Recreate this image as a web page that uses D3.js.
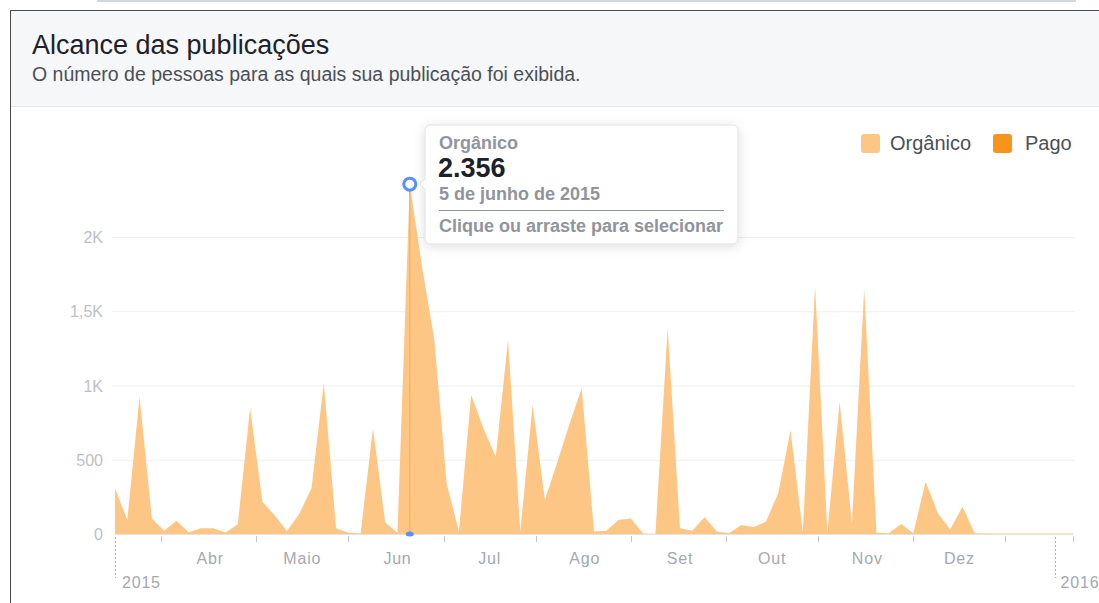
<!DOCTYPE html>
<html>
<head>
<meta charset="utf-8">
<script src="https://cdn.jsdelivr.net/npm/d3@7"></script>
<style>
  body { margin: 0; background: #fff; font-family: "Liberation Sans", Arial, Helvetica, sans-serif; }
  svg { display: block; }
  .grid { stroke: #eceef1; stroke-width: 1; }
  .ylab { fill: #bcc0c6; font-size: 16px; text-anchor: end; }
  .xlab { fill: #a4a8b0; font-size: 16px; text-anchor: middle; letter-spacing: 0.8px; }
  .xtick { stroke: #c4c8ce; stroke-width: 1; }
  .year { fill: #a4a8b0; font-size: 16px; letter-spacing: 0.8px; }
  .tip-gray { fill: #90949c; font-size: 18px; font-weight: bold; }
</style>
</head>
<body>
<svg id="chart"></svg>
<script>
// every point is 4 days apart, starting 1 Mar 2015
const startDate = new Date(2015, 2, 1);
const stepDays = 4;
const organico = [
  308, 94, 925, 105, 22, 90, 11, 38, 38, 10,
  65, 846, 218, 125, 20, 135, 308, 1015, 38, 8,
  5, 712, 78, 9, 2356, 1800, 1306, 341, 15, 936,
  710, 521, 1306, 16, 869, 229, 480, 739, 981, 16,
  22, 94, 105, 4, 2, 1385, 38, 22, 112, 16,
  5, 61, 45, 83, 274, 698, 12, 1670, 10, 891,
  72, 1650, 8, 5, 67, 5, 352, 139, 31, 184,
  5, 3, 3, 3, 3, 3, 3, 3, 3
];
const pago = organico.map(() => 0);
const yTicks = [0, 500, 1000, 1500, 2000];
const monthNames = ['Jan', 'Fev', 'Mar', 'Abr', 'Maio', 'Jun', 'Jul', 'Ago', 'Set', 'Out', 'Nov', 'Dez'];
const seriesNames = ['Orgânico', 'Pago'];
const seriesColors = ['#fdc684', '#f7941d'];
const highlightIdx = 24;

const W = 1099, H = 603;
const svg = d3.select('#chart').attr('width', W).attr('height', H);

const defs = svg.append('defs');
const sh = defs.append('filter').attr('id', 'shadow').attr('x', '-20%').attr('y', '-30%')
  .attr('width', '140%').attr('height', '170%');
sh.append('feDropShadow').attr('dx', 0).attr('dy', 2).attr('stdDeviation', 6)
  .attr('flood-color', '#000').attr('flood-opacity', 0.13);

// card frame + header
svg.append('line').attr('x1', 97).attr('x2', 1076).attr('y1', 1).attr('y2', 1)
  .attr('stroke', '#d3d6db').attr('stroke-width', 2);
svg.append('rect').attr('x', 10.5).attr('y', 10.5).attr('width', W).attr('height', H)
  .attr('fill', '#fff').attr('stroke', '#4a4a4a').attr('stroke-width', 1);
svg.append('rect').attr('x', 11).attr('y', 11).attr('width', W - 11).attr('height', 95)
  .attr('fill', '#f6f7f9');
svg.append('line').attr('x1', 11).attr('x2', W).attr('y1', 106.5).attr('y2', 106.5)
  .attr('stroke', '#e3e5e8');
svg.append('text').attr('x', 32).attr('y', 54).attr('fill', '#1d2129')
  .style('font-size', '27px').text('Alcance das publicações');
svg.append('text').attr('x', 32).attr('y', 81).attr('fill', '#4b4f56')
  .style('font-size', '19.5px').text('O número de pessoas para as quais sua publicação foi exibida.');

// scales
const dates = organico.map((_, i) => d3.timeDay.offset(startDate, i * stepDays));
const x = d3.scaleTime().domain(d3.extent(dates)).range([115, 1073]);
const y = d3.scaleLinear().domain([0, 2000]).range([534, 237]);

const yFmt = (v) => v === 0 ? '0' : v < 1000 ? String(v) : String(v / 1000).replace('.', ',') + 'K';

const g = svg.append('g');
yTicks.forEach((t) => {
  if (t > 0) g.append('line').attr('class', 'grid').attr('x1', 112).attr('x2', 1075)
    .attr('y1', y(t) + 0.5).attr('y2', y(t) + 0.5);
  g.append('text').attr('class', 'ylab').attr('x', 103).attr('y', y(t) + 6).text(yFmt(t));
});

// stacked area
const rows = dates.map((d, i) => ({ date: d, org: organico[i], pago: pago[i] }));
const stack = d3.stack().keys(['org', 'pago'])(rows);
const area = d3.area().x((d) => x(d.data.date)).y0((d) => y(d[0])).y1((d) => y(d[1]));
g.selectAll('.area').data(stack).enter().append('path')
  .attr('d', area).attr('fill', (d, i) => seriesColors[i]);

// baseline + ticks
g.append('line').attr('x1', 115).attr('x2', 1073).attr('y1', 534.5).attr('y2', 534.5)
  .attr('stroke', '#e1e3e6');
const tickDates = d3.timeMonth.range(new Date(2015, 2, 1), new Date(2016, 0, 1))
  .map((d) => d3.timeDay.offset(d, 15)).concat([dates[dates.length - 1]]);
tickDates.forEach((d) => g.append('line').attr('class', 'xtick')
  .attr('x1', Math.round(x(d)) + 0.5).attr('x2', Math.round(x(d)) + 0.5).attr('y1', 536).attr('y2', 542));
d3.timeMonth.range(new Date(2015, 3, 1), new Date(2016, 0, 1)).forEach((d) =>
  g.append('text').attr('class', 'xlab').attr('x', x(d)).attr('y', 564).text(monthNames[d.getMonth()]));

// year markers
[[dates[0], '2015', 7], [new Date(2016, 0, 1), '2016', 6]].forEach(([d, lbl, dx]) => {
  g.append('line').attr('x1', Math.round(x(d)) + 0.5).attr('x2', Math.round(x(d)) + 0.5)
    .attr('y1', 537).attr('y2', 578).attr('stroke', '#b0b4ba').attr('stroke-dasharray', '2,2');
  g.append('text').attr('class', 'year').attr('x', x(d) + dx).attr('y', 588).text(lbl);
});

// highlight
const hx = x(dates[highlightIdx]), hy = y(organico[highlightIdx]);
g.append('line').attr('x1', hx).attr('x2', hx).attr('y1', hy).attr('y2', 534)
  .attr('stroke', '#f7b568').attr('stroke-width', 1.5);
g.append('ellipse').attr('cx', hx).attr('cy', 534).attr('rx', 4).attr('ry', 2.5).attr('fill', '#5890ff');
g.append('circle').attr('cx', hx).attr('cy', hy).attr('r', 6)
  .attr('fill', '#fff').attr('stroke', '#5890ff').attr('stroke-width', 3);

// tooltip
const num = d3.formatLocale({ decimal: ',', thousands: '.', grouping: [3], currency: ['R$', ''] }).format(',d');
const meses = ['janeiro', 'fevereiro', 'março', 'abril', 'maio', 'junho', 'julho', 'agosto',
  'setembro', 'outubro', 'novembro', 'dezembro'];
const hd = dates[highlightIdx];
const tip = g.append('g').attr('transform', 'translate(425,125)');
tip.append('rect').attr('width', 313).attr('height', 119).attr('rx', 5)
  .attr('fill', '#fff').attr('stroke', '#dddfe2').attr('filter', 'url(#shadow)');
tip.append('path').attr('d', `M0.5,${hy - 125 - 6} L-5,${hy - 125} L0.5,${hy - 125 + 6}`)
  .attr('fill', '#fff').attr('stroke', '#dddfe2');
tip.append('rect').attr('x', 0.5).attr('y', hy - 125 - 7).attr('width', 2).attr('height', 14).attr('fill', '#fff');
tip.append('text').attr('class', 'tip-gray').attr('x', 14).attr('y', 24).text(seriesNames[0]);
tip.append('text').attr('x', 13).attr('y', 52).attr('fill', '#1d2129')
  .style('font-size', '27px').style('font-weight', 'bold').text(num(organico[highlightIdx]));
tip.append('text').attr('class', 'tip-gray').attr('x', 14).attr('y', 75)
  .text(`${hd.getDate()} de ${meses[hd.getMonth()]} de ${hd.getFullYear()}`);
tip.append('line').attr('x1', 14).attr('x2', 299).attr('y1', 85.5).attr('y2', 85.5)
  .attr('stroke', '#90949c').attr('stroke-width', 1);
tip.append('text').attr('class', 'tip-gray').attr('x', 14).attr('y', 107).text('Clique ou arraste para selecionar');

// legend
const leg = svg.append('g').attr('transform', 'translate(861,134)');
[[0, 0, 29], [1, 132, 164]].forEach(([i, sx, tx]) => {
  leg.append('rect').attr('x', sx).attr('y', 0).attr('width', 19).attr('height', 19).attr('rx', 3)
    .attr('fill', seriesColors[i]);
  leg.append('text').attr('x', tx).attr('y', 16).attr('fill', '#4b4f56')
    .style('font-size', '20px').text(seriesNames[i]);
});
</script>
</body>
</html>
